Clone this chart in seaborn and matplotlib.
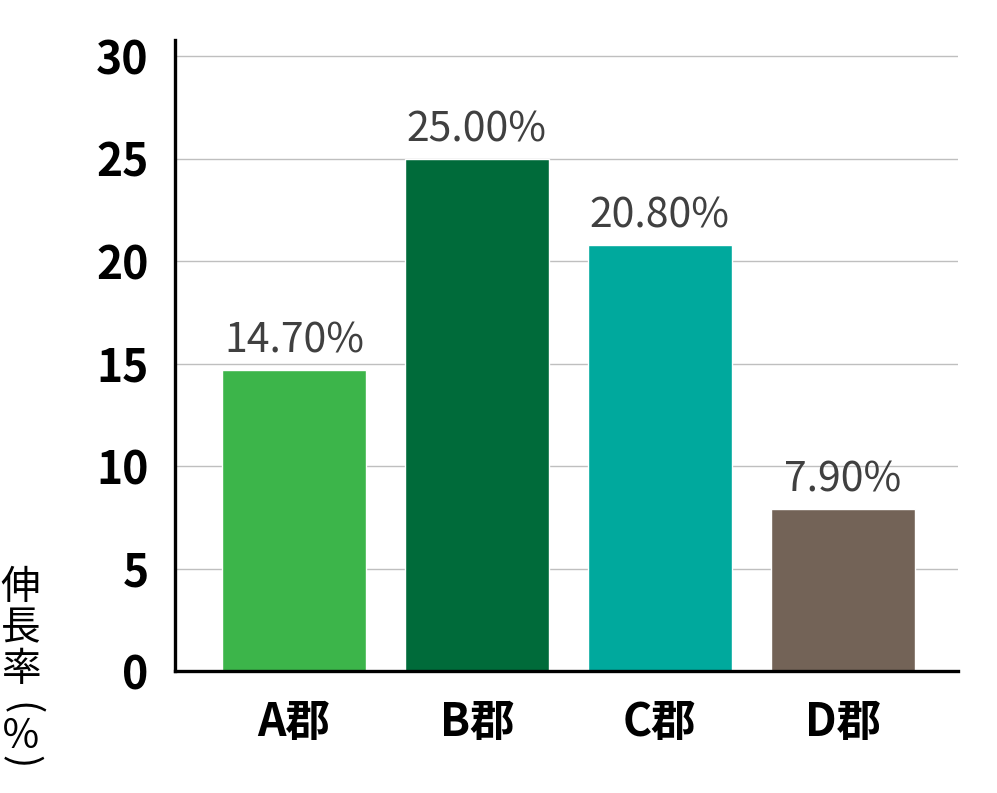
import matplotlib
matplotlib.use("Agg")
import matplotlib.pyplot as plt
import seaborn as sns
import pandas as pd

categories = ["A郡", "B郡", "C郡", "D郡"]
growth = [14.7, 25.0, 20.8, 7.9]
bar_colors = ["#3cb54a", "#006b3a", "#00a99d", "#736357"]
y_ticks = [0, 5, 10, 15, 20, 25, 30]
y_label = "伸長率(％)"

df = pd.DataFrame({"category": categories, "growth": growth})

sns.set_theme(style="white")
plt.rcParams['font.family'] = ['Noto Sans CJK JP', 'DejaVu Sans']

fig = plt.figure(figsize=(9.97, 7.93), dpi=100)
ax = fig.add_axes([0.1755, 0.1538, 0.7855, 0.7958])

sns.barplot(data=df, x="category", y="growth", hue="category",
            palette=bar_colors, width=0.785, legend=False, ax=ax,
            saturation=1)

ax.set_ylim(0, 30.8)
ax.set_xlim(-0.65, 3.63)
ax.set_yticks(y_ticks)
ax.yaxis.grid(True, color="#bfbfbf", linewidth=1)
ax.set_axisbelow(True)
ax.set_xlabel("")
ax.set_ylabel("")

for s in ["top", "right"]:
    ax.spines[s].set_visible(False)
for s in ["left", "bottom"]:
    ax.spines[s].set_color("black")
    ax.spines[s].set_linewidth(2.4)

ax.tick_params(axis="both", length=0, labelsize=32)
for lbl in ax.get_yticklabels() + ax.get_xticklabels():
    lbl.set_fontweight("bold")
    lbl.set_color("black")
ax.tick_params(axis="y", pad=19)
ax.tick_params(axis="x", pad=21)

# value labels above bars
for i, v in enumerate(growth):
    ax.annotate(f"{v:.2f}%", (i, v), xytext=(0, 6), textcoords="offset points",
                ha="center", va="bottom", fontsize=29.5, color="#404040",
                fontweight="normal")

# vertical (tategaki) y-axis label, one glyph per line; brackets turned
label_y_px = [588, 628, 670, 709, 737, 762]
for ch, py in zip(y_label, label_y_px):
    rot = -90 if ch in "()" else 0
    fig.text(20.5 / 997, 1 - py / 793, ch, ha="center", va="center",
             fontsize=28.5, color="black", fontweight="normal",
             rotation=rot, rotation_mode="anchor")

fig.savefig("out.png", dpi=100, facecolor="white")
